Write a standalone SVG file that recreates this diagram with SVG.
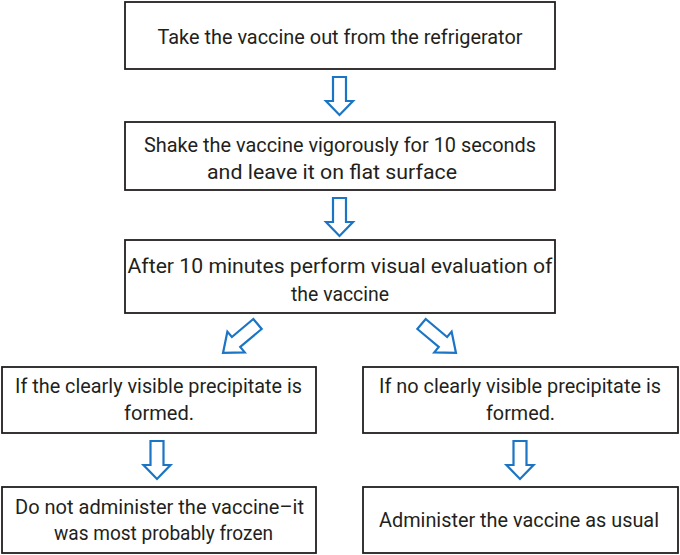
<svg xmlns="http://www.w3.org/2000/svg" width="680" height="555" viewBox="0 0 680 555">
<style>
.box{fill:#fff;stroke:#231f20;stroke-width:1.8}
.t{font-family:Roboto,"Liberation Sans",sans-serif;font-size:21px;fill:#231f20;text-anchor:middle}
.arr{fill:#fff;stroke:#1b75c4;stroke-width:2.2;stroke-linejoin:miter}
</style>
<defs>
<polygon id="a38" points="-6.5,0 6.5,0 6.5,24 13.5,24 0,38 -13.5,24 -6.5,24"/>
<polygon id="a45" points="-6.5,0 6.5,0 6.5,28 13.5,28 0,45 -13.5,28 -6.5,28"/>
</defs>
<rect width="680" height="555" fill="#fff"/>
<g id="n1"><rect class="box" x="125" y="2" width="430" height="67"/>
<text class="t" x="340" y="44" textLength="365" lengthAdjust="spacingAndGlyphs">Take the vaccine out from the refrigerator</text></g>
<g id="n2"><rect class="box" x="125" y="122" width="430" height="68"/>
<text class="t" x="340" y="152" textLength="392" lengthAdjust="spacingAndGlyphs">Shake the vaccine vigorously for 10 seconds</text>
<text class="t" x="332" y="179" textLength="250" lengthAdjust="spacingAndGlyphs">and leave it on flat surface</text></g>
<g id="n3"><rect class="box" x="125" y="240" width="430" height="73"/>
<text class="t" x="340" y="273" textLength="425" lengthAdjust="spacingAndGlyphs">After 10 minutes perform visual evaluation of</text>
<text class="t" x="340" y="301" textLength="98" lengthAdjust="spacingAndGlyphs">the vaccine</text></g>
<g id="n4"><rect class="box" x="2" y="367" width="314" height="66"/>
<text class="t" x="158.5" y="393" textLength="287" lengthAdjust="spacingAndGlyphs">If the clearly visible precipitate is</text>
<text class="t" x="159" y="420" textLength="70" lengthAdjust="spacingAndGlyphs">formed.</text></g>
<g id="n5"><rect class="box" x="363" y="367" width="315" height="66"/>
<text class="t" x="520" y="393" textLength="282" lengthAdjust="spacingAndGlyphs">If no clearly visible precipitate is</text>
<text class="t" x="520.5" y="420" textLength="69" lengthAdjust="spacingAndGlyphs">formed.</text></g>
<g id="n6"><rect class="box" x="2" y="487" width="314" height="66"/>
<text class="t" x="159.5" y="514" textLength="289" lengthAdjust="spacingAndGlyphs">Do not administer the vaccine–it</text>
<text class="t" x="163.5" y="540" textLength="219" lengthAdjust="spacingAndGlyphs">was most probably frozen</text></g>
<g id="n7"><rect class="box" x="363" y="487" width="315" height="66"/>
<text class="t" x="519" y="527" textLength="280" lengthAdjust="spacingAndGlyphs">Administer the vaccine as usual</text></g>
<g id="connectors">
<use href="#a38" class="arr" transform="translate(339.5,77)"/>
<use href="#a38" class="arr" transform="translate(339.5,198)"/>
<use href="#a45" class="arr" transform="translate(257.5,324) rotate(50)"/>
<use href="#a45" class="arr" transform="translate(421.5,324) rotate(-50)"/>
<use href="#a38" class="arr" transform="translate(157,441)"/>
<use href="#a38" class="arr" transform="translate(520,441)"/>
</g>
</svg>
